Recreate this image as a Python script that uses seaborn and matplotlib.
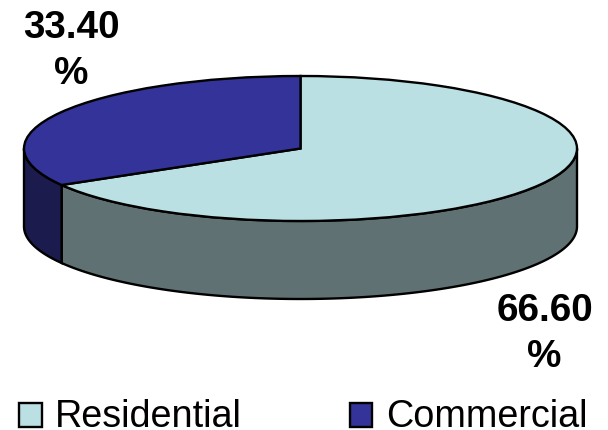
import numpy as np
import matplotlib
matplotlib.use("Agg")
import matplotlib.pyplot as plt
from matplotlib.patches import Patch
import seaborn as sns

# Share of floor area by use
categories = ["Residential", "Commercial"]
shares = [66.60, 33.40]

top_colors = sns.color_palette(["#BAE0E3", "#333399"])
side_colors = sns.color_palette(["#5F7172", "#1B1B4D"])

sns.set_theme(style="white")
plt.rcParams["font.family"] = ["Liberation Sans", "DejaVu Sans"]

W, H = 608, 431
CX, CY, RX, RY, DEPTH = 300.5, 149.5, 276.5, 72.5, 78.0

fig = plt.figure(figsize=(W / 100, H / 100), dpi=100)
ax = fig.add_axes([0, 0, 1, 1])

# Disc top: a regular pie squashed by the axes scale
ax.pie(shares, colors=top_colors, startangle=90, counterclock=False, radius=1.0,
       wedgeprops=dict(edgecolor="black", linewidth=1.7, zorder=3))
ax.set_aspect("auto")
ax.set_xlim(-CX / RX, (W - CX) / RX)
ax.set_ylim((CY - H) / RY, CY / RY)
ax.axis("off")

# Disc wall: visible front half only, clipped to each slice's sweep
depth = DEPTH / RY
start = 0.0
for share, color in zip(shares, side_colors):
    stop = start + share / sum(shares) * 2 * np.pi
    lo, hi = max(start, np.pi / 2), min(stop, 3 * np.pi / 2)
    if hi > lo:
        t = np.linspace(lo, hi, 200)
        x, y = np.sin(t), np.cos(t)
        ax.fill(np.r_[x, x[::-1]], np.r_[y, y[::-1] - depth],
                facecolor=color, edgecolor="black", linewidth=1.7, zorder=2)
    start = stop

# Value labels, placed by pixel position
label_pos = {"Residential": (544.5, 334), "Commercial": (71, 51)}
for name, share in zip(categories, shares):
    px, py = label_pos[name]
    ax.text(px / W, 1 - py / H, f"{share:.2f}\n%", transform=ax.transAxes,
            ha="center", va="center", fontsize=27.8, fontweight="bold",
            color="black", linespacing=1.36)

handles = [Patch(facecolor=c, edgecolor="black", linewidth=1.7) for c in top_colors]
legend = ax.legend(handles, categories, loc="lower left", bbox_to_anchor=(19 / W, -4 / H),
                   bbox_transform=ax.transAxes, ncols=2, frameon=False, fontsize=27.2,
                   labelcolor="black", borderpad=0, borderaxespad=0.0, handlelength=0.6,
                   handleheight=0.6, handletextpad=0.36, columnspacing=2.85)
# Drop the swatches slightly so they sit on the text baseline
for swatch in legend.legend_handles:
    swatch.set_y(swatch.get_y() - 1.4)

fig.savefig("out.png", dpi=100)
